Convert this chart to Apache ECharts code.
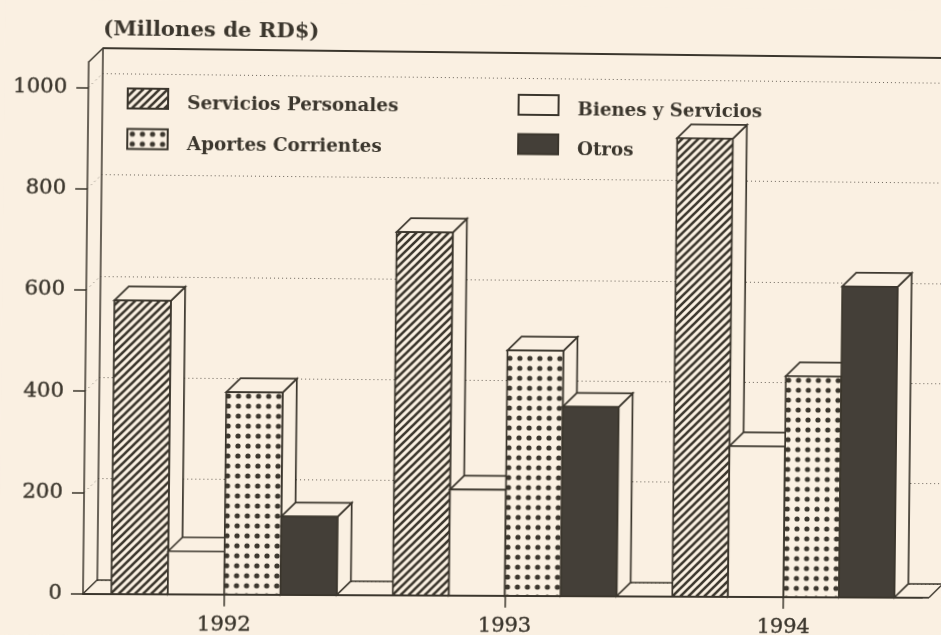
<!DOCTYPE html>
<html>
<head>
<meta charset="utf-8">
<style>
html,body{margin:0;padding:0;width:941px;height:635px;overflow:hidden;background:#faf0e2}
#chart{position:absolute;left:0;top:0;width:941px;height:635px;transform-origin:83px 594.5px;transform:matrix3d(1.0112,.00455,0,.0000133,-.0107,1,0,0,0,0,1,0,0,0,0,1)}
</style>
<script src="https://cdn.jsdelivr.net/npm/echarts@6/dist/echarts.min.js"></script>
</head>
<body>
<div id="chart"></div>
<script>
const years = ['1992', '1993', '1994'];
const serviciosPersonales = [580, 720, 912];
const bienesServicios = [85, 210, 300];
const aportesCorrientes = [400, 487, 440];
const otros = [155, 376, 620];
const tickValues = [0, 200, 400, 600, 800, 1000];
const axisMax = 1050;

const PAPER = '#faf0e2', INK = '#3b362d', DARK = '#443f38';
const FONT = '"DejaVu Serif"';
const DEPTH = 14;
const RUNOUT = 7;

function tile(w, h, draw) {
  const c = document.createElement('canvas');
  c.width = w; c.height = h;
  const g = c.getContext('2d');
  g.fillStyle = PAPER; g.fillRect(0, 0, w, h);
  g.strokeStyle = INK; g.fillStyle = INK;
  draw(g);
  return { image: c, repeat: 'repeat' };
}
const hatch = tile(8, 8, g => {
  g.lineWidth = 2.6;
  [[-8, 8, 8, -8], [0, 8, 8, 0], [0, 16, 16, 0]].forEach(p => {
    g.beginPath(); g.moveTo(p[0], p[1]); g.lineTo(p[2], p[3]); g.stroke();
  });
});
const dots = tile(10, 10, g => {
  g.beginPath(); g.arc(5, 5, 2.6, 0, Math.PI * 2); g.fill();
});

function barRenderer(slot) {
  return function (params, api) {
    const band = api.size([1, 0])[0];
    const w = band * 0.2;
    const top = api.coord([api.value(0), api.value(1)]);
    const base = api.coord([api.value(0), 0]);
    const x = top[0] + (slot - 2) * w;
    const y = top[1], b = base[1];
    const line = { stroke: INK, lineWidth: 1.7, fill: PAPER };
    return {
      type: 'group',
      children: [
        { type: 'polygon', shape: { points: [[x + w, y], [x + w + DEPTH, y - DEPTH], [x + w + DEPTH, b - DEPTH], [x + w, b]] }, style: line },
        { type: 'polygon', shape: { points: [[x, y], [x + DEPTH, y - DEPTH], [x + w + DEPTH, y - DEPTH], [x + w, y]] }, style: line },
        { type: 'rect', shape: { x: x, y: y, width: w, height: b - y }, style: api.style({ stroke: INK, lineWidth: 1.7 }) }
      ]
    };
  };
}

function wallRenderer(params, api) {
  const v = api.value(0);
  const cs = params.coordSys;
  const y = api.coord([0, v])[1];
  const right = cs.x + cs.width + RUNOUT;
  const solid = v === 0 || v === axisMax;
  const style = solid
    ? { stroke: INK, lineWidth: 1.5, fill: null }
    : { stroke: INK, lineWidth: 1, lineDash: [1, 4], fill: null, opacity: 0.7 };
  const children = [{ type: 'line', shape: { x1: cs.x, y1: y, x2: cs.x + DEPTH, y2: y - DEPTH }, style: style }];
  if (v === axisMax) {
    children.push({ type: 'line', shape: { x1: cs.x + DEPTH, y1: y - DEPTH, x2: right + 2 * DEPTH, y2: y - DEPTH }, style: { stroke: INK, lineWidth: 1.8 } });
  }
  if (v === 0) {
    children.push({ type: 'line', shape: { x1: cs.x, y1: y, x2: right, y2: y }, style: { stroke: INK, lineWidth: 1.8 } });
    children.push({ type: 'line', shape: { x1: right, y1: y, x2: right + DEPTH, y2: y - DEPTH }, style: style });
  }
  return { type: 'group', children: children };
}

function barSeries(name, values, slot, fill) {
  return {
    name: name,
    type: 'custom',
    xAxisIndex: 0, yAxisIndex: 0,
    z: 5,
    clip: false,
    itemStyle: { color: fill, borderColor: INK, borderWidth: 1.5 },
    encode: { x: 0, y: 1 },
    data: years.map((y, i) => [y, values[i]]),
    renderItem: barRenderer(slot)
  };
}

const chart = echarts.init(document.getElementById('chart'));
const legendCommon = {
  orient: 'vertical',
  itemWidth: 40,
  itemHeight: 20,
  icon: 'rect',
  selectedMode: false,
  padding: 0,
  formatter: '{t|{name}}',
  textStyle: {
    rich: { t: { fontFamily: FONT, fontSize: 18.3, fontWeight: 'bold', color: INK, padding: [11, 0, 0, 14] } }
  }
};
const mediumText = { fontFamily: FONT, color: INK, textBorderColor: INK, textBorderWidth: 0.4 };
chart.setOption({
  animation: false,
  backgroundColor: PAPER,
  title: {
    text: '(Millones de RD$)',
    left: 97, top: 19, padding: 0,
    textStyle: { fontFamily: FONT, fontSize: 21, fontWeight: 'bold', color: INK }
  },
  legend: [
    Object.assign({ left: 121, top: 87, itemGap: 15, data: ['Servicios Personales', 'Aportes Corrientes'] }, legendCommon),
    Object.assign({ left: 510, top: 89, itemGap: 14, data: ['Bienes y Servicios', 'Otros'] }, legendCommon)
  ],
  grid: [
    { left: 83, top: 62, width: 839, height: 532 },
    { left: 83 + DEPTH, top: 62 - DEPTH, width: 860, height: 532 }
  ],
  xAxis: [
    {
      type: 'category', gridIndex: 0, data: years, z: 6,
      axisLine: { lineStyle: { color: INK, width: 1.8 } },
      axisTick: { show: true, alignWithLabel: true, length: 12, lineStyle: { color: INK, width: 1.5 } },
      axisLabel: Object.assign({ fontSize: 21, margin: 20 }, mediumText)
    },
    {
      type: 'category', gridIndex: 1, data: years,
      axisLine: { lineStyle: { color: INK, width: 1.5 } },
      axisTick: { show: false }, axisLabel: { show: false }
    }
  ],
  yAxis: [
    {
      type: 'value', gridIndex: 0, min: 0, max: axisMax, z: 6,
      axisLine: { show: true, lineStyle: { color: INK, width: 1.5 } },
      axisTick: { show: true, length: 12, customValues: tickValues, lineStyle: { color: INK, width: 1.5 } },
      axisLabel: Object.assign({ customValues: tickValues, formatter: v => String(v), fontSize: 21, margin: 21 }, mediumText),
      splitLine: { show: false }
    },
    {
      type: 'value', gridIndex: 1, min: 0, max: axisMax,
      axisLine: { show: true, lineStyle: { color: INK, width: 1.5 } },
      axisTick: { show: false, customValues: tickValues },
      axisLabel: { show: false, customValues: tickValues },
      splitLine: { show: true, lineStyle: { color: INK, width: 1, type: [1, 3], opacity: 0.75 } }
    }
  ],
  series: [
    {
      type: 'custom', name: 'pared', xAxisIndex: 0, yAxisIndex: 0, z: 3, clip: false,
      encode: { y: 0 }, data: tickValues.concat([axisMax]).map(v => [v]),
      renderItem: wallRenderer, silent: true
    },
    barSeries('Servicios Personales', serviciosPersonales, 0, hatch),
    barSeries('Bienes y Servicios', bienesServicios, 1, PAPER),
    barSeries('Aportes Corrientes', aportesCorrientes, 2, dots),
    barSeries('Otros', otros, 3, DARK)
  ]
});
</script>
</body>
</html>
